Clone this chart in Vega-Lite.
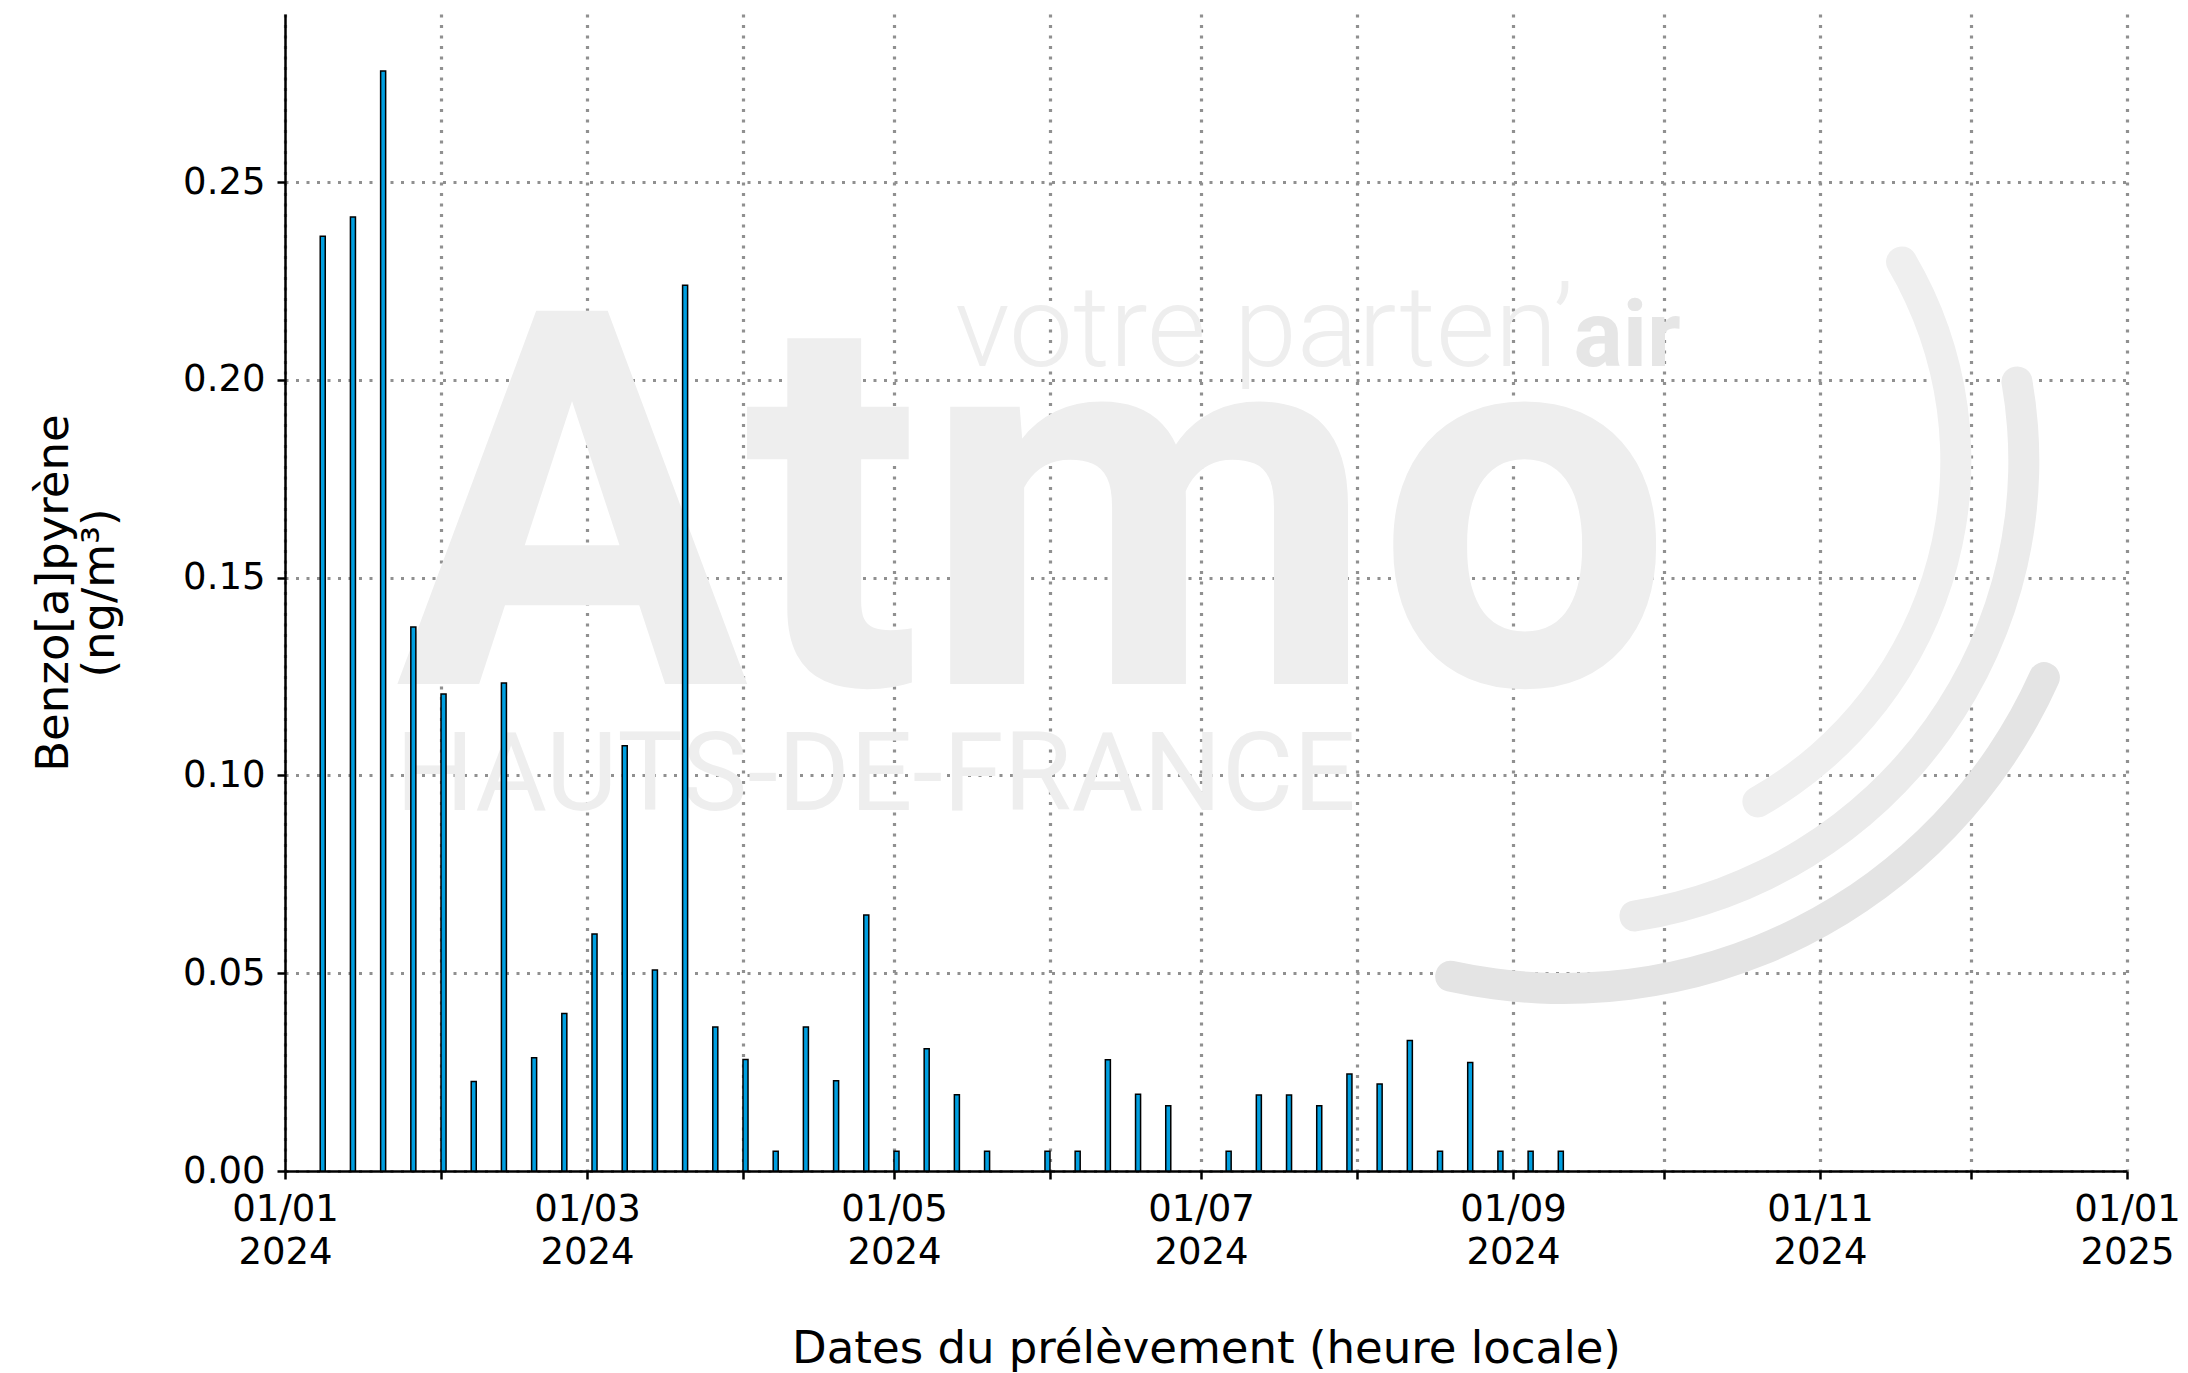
{
  "$schema": "https://vega.github.io/schema/vega-lite/v6.json",
  "width": 1842,
  "height": 1157,
  "autosize": "none",
  "padding": {"left": 285, "top": 14, "right": 61, "bottom": 202},
  "background": "white",
  "config": {"view": {"stroke": null}, "font": "DejaVu Sans"},
  "layer": [
    {
      "data": {"values": [{"logo": "arc"}]},
      "mark": {"type": "arc", "color": "#e4e4e4", "radius": 512, "radius2": 543, "theta": 1.965, "theta2": 3.386, "cornerRadius": 15},
      "encoding": {
        "x": {"datum": {"year": 2024, "month": 9, "date": 11, "utc": true}, "type": "temporal"},
        "y": {"datum": 0.1795, "type": "quantitative"}
      }
    },
    {
      "data": {"values": [{"logo": "arc"}]},
      "mark": {"type": "arc", "color": "#ebebeb", "radius": 445, "radius2": 476, "theta": 1.365, "theta2": 3.019, "cornerRadius": 15},
      "encoding": {
        "x": {"datum": {"year": 2024, "month": 9, "date": 11, "utc": true}, "type": "temporal"},
        "y": {"datum": 0.1795, "type": "quantitative"}
      }
    },
    {
      "data": {"values": [{"logo": "arc"}]},
      "mark": {"type": "arc", "color": "#efefef", "radius": 377, "radius2": 408, "theta": 1.0, "theta2": 2.662, "cornerRadius": 15},
      "encoding": {
        "x": {"datum": {"year": 2024, "month": 9, "date": 11, "utc": true}, "type": "temporal"},
        "y": {"datum": 0.1795, "type": "quantitative"}
      }
    },
    {
      "data": {"values": [{"t": "Atmo"}]},
      "mark": {"type": "text", "font": "Roboto", "fontWeight": "bold", "fontSize": 525, "color": "#eeeeee", "align": "left", "baseline": "alphabetic"},
      "encoding": {
        "text": {"field": "t"},
        "x": {"datum": {"year": 2024, "month": 1, "date": 23, "utc": true}, "type": "temporal"},
        "y": {"datum": 0.1231, "type": "quantitative"}
      }
    },
    {
      "data": {"values": [{"t": "HAUTS-DE-FRANCE"}]},
      "mark": {"type": "text", "font": "Roboto", "fontSize": 110, "color": "#eeeeee", "align": "left", "baseline": "alphabetic"},
      "encoding": {
        "text": {"field": "t"},
        "x": {"datum": {"year": 2024, "month": 1, "date": 23, "utc": true}, "type": "temporal"},
        "y": {"datum": 0.0913, "type": "quantitative"}
      }
    },
    {
      "data": {"values": [{"t": "votre parten’"}]},
      "mark": {"type": "text", "font": "Roboto", "fontWeight": 300, "fontSize": 114, "color": "#eeeeee", "align": "right", "baseline": "alphabetic"},
      "encoding": {
        "text": {"field": "t"},
        "x": {"datum": {"year": 2024, "month": 9, "date": 13, "utc": true}, "type": "temporal"},
        "y": {"datum": 0.2035, "type": "quantitative"}
      }
    },
    {
      "data": {"values": [{"t": "air"}]},
      "mark": {"type": "text", "font": "Roboto", "fontWeight": "bold", "fontSize": 92, "color": "#e6e6e6", "align": "left", "baseline": "alphabetic"},
      "encoding": {
        "text": {"field": "t"},
        "x": {"datum": {"year": 2024, "month": 9, "date": 13, "utc": true}, "type": "temporal"},
        "y": {"datum": 0.2035, "type": "quantitative"}
      }
    },
    {
      "data": {
        "values": [
          {"debut": "2024-01-08", "fin": "2024-01-09", "valeur": 0.2363},
          {"debut": "2024-01-14", "fin": "2024-01-15", "valeur": 0.2412},
          {"debut": "2024-01-20", "fin": "2024-01-21", "valeur": 0.2781},
          {"debut": "2024-01-26", "fin": "2024-01-27", "valeur": 0.1375},
          {"debut": "2024-02-01", "fin": "2024-02-02", "valeur": 0.1206},
          {"debut": "2024-02-07", "fin": "2024-02-08", "valeur": 0.0226},
          {"debut": "2024-02-13", "fin": "2024-02-14", "valeur": 0.1234},
          {"debut": "2024-02-19", "fin": "2024-02-20", "valeur": 0.0286},
          {"debut": "2024-02-25", "fin": "2024-02-26", "valeur": 0.0398},
          {"debut": "2024-03-02", "fin": "2024-03-03", "valeur": 0.0599},
          {"debut": "2024-03-08", "fin": "2024-03-09", "valeur": 0.1075},
          {"debut": "2024-03-14", "fin": "2024-03-15", "valeur": 0.0508},
          {"debut": "2024-03-20", "fin": "2024-03-21", "valeur": 0.2239},
          {"debut": "2024-03-26", "fin": "2024-03-27", "valeur": 0.0364},
          {"debut": "2024-04-01", "fin": "2024-04-02", "valeur": 0.0282},
          {"debut": "2024-04-07", "fin": "2024-04-08", "valeur": 0.005},
          {"debut": "2024-04-13", "fin": "2024-04-14", "valeur": 0.0364},
          {"debut": "2024-04-19", "fin": "2024-04-20", "valeur": 0.0228},
          {"debut": "2024-04-25", "fin": "2024-04-26", "valeur": 0.0647},
          {"debut": "2024-05-01", "fin": "2024-05-02", "valeur": 0.005},
          {"debut": "2024-05-07", "fin": "2024-05-08", "valeur": 0.0309},
          {"debut": "2024-05-13", "fin": "2024-05-14", "valeur": 0.0193},
          {"debut": "2024-05-19", "fin": "2024-05-20", "valeur": 0.005},
          {"debut": "2024-05-31", "fin": "2024-06-01", "valeur": 0.005},
          {"debut": "2024-06-06", "fin": "2024-06-07", "valeur": 0.005},
          {"debut": "2024-06-12", "fin": "2024-06-13", "valeur": 0.0281},
          {"debut": "2024-06-18", "fin": "2024-06-19", "valeur": 0.0194},
          {"debut": "2024-06-24", "fin": "2024-06-25", "valeur": 0.0165},
          {"debut": "2024-07-06", "fin": "2024-07-07", "valeur": 0.005},
          {"debut": "2024-07-12", "fin": "2024-07-13", "valeur": 0.0192},
          {"debut": "2024-07-18", "fin": "2024-07-19", "valeur": 0.0192},
          {"debut": "2024-07-24", "fin": "2024-07-25", "valeur": 0.0165},
          {"debut": "2024-07-30", "fin": "2024-07-31", "valeur": 0.0245},
          {"debut": "2024-08-05", "fin": "2024-08-06", "valeur": 0.022},
          {"debut": "2024-08-11", "fin": "2024-08-12", "valeur": 0.033},
          {"debut": "2024-08-17", "fin": "2024-08-18", "valeur": 0.005},
          {"debut": "2024-08-23", "fin": "2024-08-24", "valeur": 0.0274},
          {"debut": "2024-08-29", "fin": "2024-08-30", "valeur": 0.005},
          {"debut": "2024-09-04", "fin": "2024-09-05", "valeur": 0.005},
          {"debut": "2024-09-10", "fin": "2024-09-11", "valeur": 0.005}
        ]
      },
      "mark": {"type": "bar", "fill": "#009fe0", "stroke": "black", "strokeWidth": 1.5},
      "encoding": {
        "x": {
          "field": "debut",
          "type": "temporal",
          "title": "Dates du prélèvement (heure locale)",
          "scale": {
            "type": "utc",
            "domain": [
              {"year": 2024, "month": 1, "date": 1, "utc": true},
              {"year": 2025, "month": 1, "date": 1, "utc": true}
            ]
          },
          "axis": {
            "values": [
              {"year": 2024, "month": 1, "date": 1, "utc": true},
              {"year": 2024, "month": 2, "date": 1, "utc": true},
              {"year": 2024, "month": 3, "date": 1, "utc": true},
              {"year": 2024, "month": 4, "date": 1, "utc": true},
              {"year": 2024, "month": 5, "date": 1, "utc": true},
              {"year": 2024, "month": 6, "date": 1, "utc": true},
              {"year": 2024, "month": 7, "date": 1, "utc": true},
              {"year": 2024, "month": 8, "date": 1, "utc": true},
              {"year": 2024, "month": 9, "date": 1, "utc": true},
              {"year": 2024, "month": 10, "date": 1, "utc": true},
              {"year": 2024, "month": 11, "date": 1, "utc": true},
              {"year": 2024, "month": 12, "date": 1, "utc": true},
              {"year": 2025, "month": 1, "date": 1, "utc": true}
            ],
            "labelExpr": "utcmonth(datum.value) % 2 == 0 ? [utcFormat(datum.value, '%d/%m'), utcFormat(datum.value, '%Y')] : ''",
            "labelFlush": false,
            "labelOverlap": false,
            "labelFontSize": 37,
            "labelColor": "black",
            "labelPadding": 12,
            "labelLineHeight": 43,
            "labelBaseline": "top",
            "tickSize": 8,
            "tickWidth": 2.5,
            "tickColor": "black",
            "domainColor": "black",
            "domainWidth": 2.5,
            "grid": true,
            "gridColor": "#909090",
            "gridDash": [3, 7.5],
            "gridWidth": 3.2,
            "titleFontSize": 45,
            "titleFontWeight": "normal",
            "titleColor": "black",
            "titleY": 191,
            "titleBaseline": "alphabetic"
          }
        },
        "x2": {"field": "fin"},
        "y": {
          "field": "valeur",
          "type": "quantitative",
          "title": ["Benzo[a]pyrène", "(ng/m³)"],
          "scale": {"domain": [0, 0.2925], "nice": false, "zero": true},
          "axis": {
            "values": [0, 0.05, 0.1, 0.15, 0.2, 0.25],
            "format": ".2f",
            "labelFontSize": 37,
            "labelColor": "black",
            "labelPadding": 12,
            "tickSize": 8,
            "tickWidth": 2.5,
            "tickColor": "black",
            "domainColor": "black",
            "domainWidth": 2.5,
            "grid": true,
            "gridColor": "#909090",
            "gridDash": [3, 7.5],
            "gridWidth": 3.2,
            "titleFontSize": 45,
            "titleFontWeight": "normal",
            "titleColor": "black",
            "titleAngle": -90,
            "titleAlign": "center",
            "titleBaseline": "middle",
            "titleLineHeight": 46,
            "titleX": -232,
            "titleY": 578.5
          }
        },
        "y2": {"datum": 0}
      }
    }
  ]
}
